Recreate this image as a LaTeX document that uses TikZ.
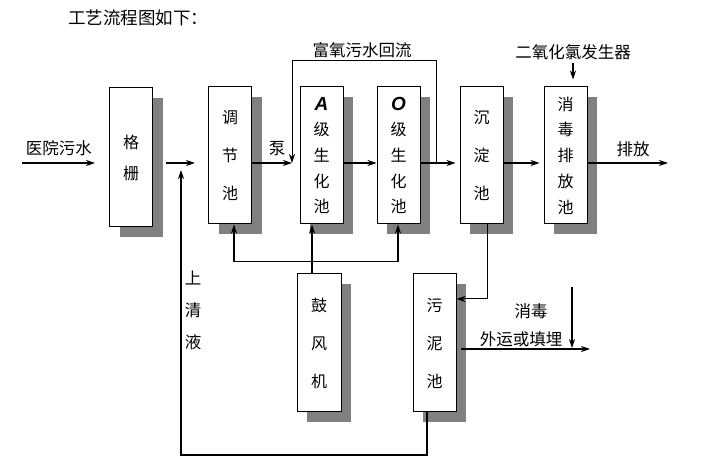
\documentclass[tikz,border=0pt]{standalone}
\usepackage{fontspec}
\setmainfont{Noto Sans CJK SC}
\newfontfamily\latinfont{Liberation Sans}
\usetikzlibrary{arrows.meta, positioning, shadows}

\begin{document}
\begin{tikzpicture}[x=1pt, y=-1pt, font=\fontsize{16.5}{19}\selectfont,
			tank/.style={draw, line width=1pt, fill=white, rectangle, align=center, inner sep=0pt,
				minimum width=43pt, minimum height=137pt,
				drop shadow={shadow xshift=10pt, shadow yshift=-10pt, fill=black!50, opacity=1}},
			three/.style={font=\fontsize{16}{38}\selectfont},
			five/.style={font=\fontsize{16}{25.7}\selectfont},
			letter/.style={font=\fontsize{19}{20}\latinfont\bfseries\itshape},
			arrow/.style={-{Stealth[length=9pt, width=6pt]}, line width=1.2pt},
			pipe/.style={line width=1pt}]
			
			\useasboundingbox (0,0) rectangle (713,470);
			
			% 定义节点
			\node[font=\fontsize{17.5}{19}\selectfont] (title) at (138,18) {工艺流程图如下：};
			
			\node[tank, font=\fontsize{16}{31}\selectfont, minimum height=139pt] (grille) at (131,157.5) {格\\栅};
			\node[tank, three] (tiaojie) at (230,155.5) {调\\节\\池};
			\node[tank, five] (apool) at (321.5,155.5) {{\fontsize{19}{20}\latinfont\bfseries\itshape A}\\级\\生\\化\\池};
			\node[tank, five] (opool) at (398.5,155.5) {{\fontsize{19}{20}\latinfont\bfseries\itshape O}\\级\\生\\化\\池};
			\node[tank, three] (chendian) at (481.5,155.5) {沉\\淀\\池};
			\node[tank, five] (xiaodu) at (565.5,155.5) {消\\毒\\排\\放\\池};
			\node[tank, three, minimum width=44pt, minimum height=138pt] (gufeng) at (319,343) {鼓\\风\\机};
			\node[tank, three, minimum height=138pt] (wuni) at (434.5,343) {污\\泥\\池};
			
			\node (clo2) at (573,52) {二氧化氯发生器};
			\node (huiliu) at (362,50) {富氧污水回流};
			\node (wushui) at (59,148) {医院污水};
			\node (beng) at (277,149) {泵};
			\node (paifang) at (633,149) {排放};
			\node[font=\fontsize{16.5}{32}\selectfont, align=center] (qingye) at (193,310) {上\\清\\液};
			\node (xiaodu2) at (531,311) {消毒};
			\node (waiyun) at (521,339) {外运或填埋};
			
			\coordinate (m) at (0,163);
			\coordinate (in) at (22,163);
			\coordinate (inend) at (95,163);
			\coordinate (gs) at (166,163);
			\coordinate (ge) at (195,163);
			\coordinate (up) at (181,170);
			\coordinate (bl) at (181,455);
			\coordinate (br) at (427,455);
			\coordinate (rs) at (436,163);
			\coordinate (re) at (292,163);
			\coordinate (air) at (312,262);
			\coordinate (al) at (234,262);
			\coordinate (ar) at (398,262);
			\coordinate (sl) at (487,299);
			\coordinate (ws) at (461,349);
			\coordinate (we) at (590,349);
			\coordinate (ds) at (572,287);
			\coordinate (de) at (572,348);
			\coordinate (pe) at (668,163);
			
			% 连线
			\draw[arrow] (in) -- (inend);
			\draw[arrow] (gs) -- (ge);
			\draw[arrow] (wuni.south -| br) -- (br) -- (bl) -- (up);
			\draw[arrow] (tiaojie.east |- m) -- (re);
			\draw[arrow, pipe] (rs) -- ++(0,-102) -| (re);
			\draw[arrow] (apool.east |- m) -- (opool.west |- m);
			\draw[arrow] (opool.east |- m) -- ([xshift=-4pt]chendian.west |- m);
			\draw[arrow] (chendian.east |- m) -- ([xshift=-4pt]xiaodu.west |- m);
			\draw[arrow] (xiaodu.east |- m) -- (pe);
			\draw[arrow] (clo2.south) -- ([yshift=7pt]clo2.south |- xiaodu.north);
			
			% 鼓风机
			\draw[arrow] (gufeng.north -| air) -- (apool.south -| air);
			\draw[pipe] (al) -- (ar);
			\draw[arrow] (al) -- (al |- tiaojie.south);
			\draw[arrow] (ar) -- (ar |- opool.south);
			
			% 污泥
			\draw[arrow, pipe] (chendian.south -| sl) |- (wuni.east |- sl);
			\draw[arrow] (ws) -- (we);
			\draw[arrow] (ds) -- (de);
			
		\end{tikzpicture}
\end{document}
